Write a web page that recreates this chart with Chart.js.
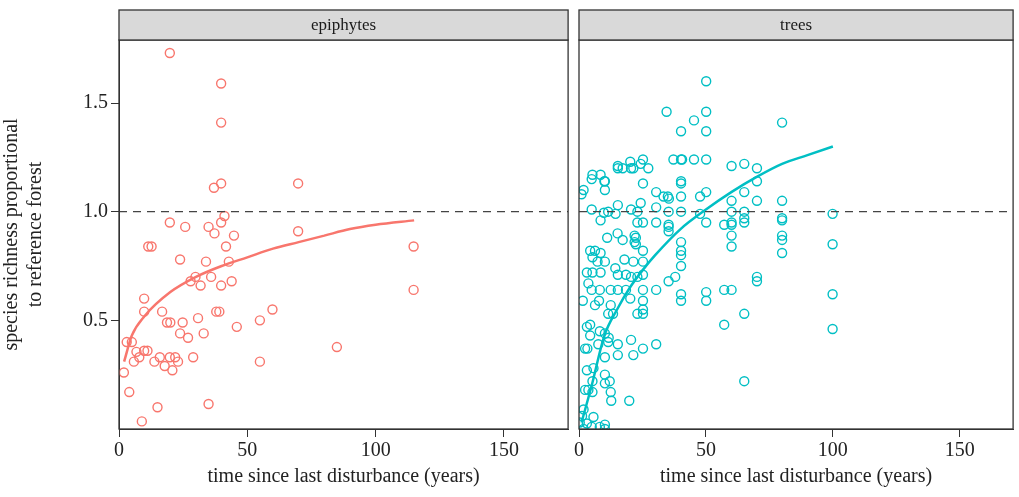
<!DOCTYPE html>
<html>
<head>
<meta charset="utf-8">
<script src="https://cdn.jsdelivr.net/npm/chart.js@4"></script>
<style>
  body { margin: 0; background: #fff; }
  #wrapL { position: absolute; left: 0; top: 0; width: 574px; height: 497px; }
  #wrapR { position: absolute; left: 572px; top: 0; width: 447px; height: 497px; }
</style>
</head>
<body>
<div id="wrapL"><canvas id="epi"></canvas></div>
<div id="wrapR"><canvas id="trees"></canvas></div>
<script>
// epiphytes: [years, proportional richness]
const epiPoints = [
  [19.8,1.73],[39.8,1.59],[39.8,1.41],[37.0,1.11],[39.8,1.13],[69.8,1.13],
  [19.8,0.95],[25.8,0.93],[34.9,0.93],[37.2,0.90],[39.8,0.95],[41.1,0.98],[44.8,0.89],[69.8,0.91],
  [11.4,0.84],[12.7,0.84],[41.7,0.84],[114.8,0.84],[23.8,0.78],[33.9,0.77],[42.8,0.77],
  [29.8,0.70],[27.9,0.68],[35.9,0.70],[31.8,0.66],[39.8,0.66],[43.9,0.68],[114.8,0.64],
  [9.8,0.60],[9.8,0.54],[16.8,0.54],[18.7,0.49],[20.0,0.49],[24.8,0.49],[30.8,0.51],
  [37.9,0.54],[39.1,0.54],[54.9,0.50],[59.8,0.55],[23.8,0.44],[26.9,0.42],[33.0,0.44],[45.9,0.47],
  [3.0,0.40],[5.0,0.40],[6.8,0.355],[9.8,0.36],[11.1,0.36],[7.9,0.33],[5.8,0.31],[13.8,0.31],
  [15.9,0.33],[19.8,0.33],[21.9,0.33],[23.0,0.31],[17.8,0.29],[20.8,0.27],[28.9,0.33],[54.9,0.31],
  [84.9,0.377],[1.9,0.26],[4.0,0.17],[15.0,0.10],[34.9,0.115],[8.9,0.035]
];
const epiFitX = [2, 5, 10, 20, 30, 40, 50, 60, 70, 80, 90, 100, 115];
const epiFitY = [0.31, 0.43, 0.52, 0.63, 0.70, 0.75, 0.79, 0.83, 0.86, 0.89, 0.92, 0.94, 0.96];

// trees: [years, proportional richness]
const treePoints = [
  [50.1,1.60],[34.5,1.46],[50.1,1.46],[45.3,1.42],[40.2,1.37],[50.1,1.37],[80.0,1.41],
  [37.2,1.24],[40.2,1.24],[40.6,1.24],[45.3,1.24],[50.1,1.24],[20.2,1.23],[25.2,1.24],
  [15.3,1.21],[15.3,1.20],[17.2,1.20],[20.5,1.20],[21.4,1.20],[24.3,1.22],[27.3,1.20],
  [5.3,1.17],[8.5,1.17],[10.2,1.14],[10.2,1.10],[1.8,1.10],[25.2,1.13],[30.4,1.09],
  [33.3,1.07],[35.0,1.07],[35.4,1.06],[40.2,1.14],[40.2,1.13],[40.2,1.07],[47.7,1.07],[50.1,1.09],
  [60.1,1.21],[65.1,1.22],[70.1,1.20],[70.1,1.14],[65.1,1.09],[60.1,1.05],[70.1,1.05],[80.0,1.05],
  [5.0,1.01],[15.3,1.03],[24.3,1.04],[30.4,1.02],[9.8,0.995],[11.5,1.0],[14.4,0.99],
  [20.5,1.01],[23.0,1.0],[35.3,1.0],[40.2,1.0],[47.7,0.99],[50.1,0.95],
  [57.2,0.94],[60.1,1.0],[60.1,0.95],[60.1,0.94],[65.1,1.0],[65.1,0.97],[65.1,0.95],
  [80.0,0.97],[80.0,0.96],[99.9,0.99],[8.5,0.96],[23.0,0.95],[25.2,0.95],[30.4,0.95],
  [35.3,0.94],[35.3,0.91],[35.3,0.93],[60.1,0.89],[60.1,0.84],[80.0,0.89],[80.0,0.87],[80.0,0.81],[99.9,0.85],
  [15.2,0.90],[17.2,0.87],[11.1,0.88],[21.9,0.89],[22.4,0.88],[21.9,0.86],[22.4,0.85],
  [40.2,0.86],[40.2,0.82],[40.2,0.80],[40.2,0.75],[25.2,0.82],
  [4.4,0.82],[6.3,0.82],[8.5,0.81],[5.3,0.79],[10.2,0.77],[7.3,0.77],[17.9,0.78],[21.4,0.77],[25.2,0.77],
  [3.1,0.72],[5.3,0.72],[8.5,0.72],[14.3,0.74],[15.3,0.71],[18.5,0.71],[20.5,0.70],[23.0,0.70],[25.2,0.71],[3.7,0.67],
  [35.3,0.68],[37.9,0.70],[70.1,0.70],[70.1,0.68],
  [5.0,0.64],[8.2,0.64],[12.5,0.64],[15.3,0.64],[18.5,0.64],[25.2,0.64],[30.4,0.64],[1.5,0.59],[6.3,0.57],[7.9,0.59],
  [20.2,0.60],[25.2,0.59],[40.2,0.62],[40.2,0.59],[50.1,0.63],[50.1,0.59],[57.2,0.64],[60.1,0.64],[99.9,0.62],
  [12.5,0.57],[11.5,0.53],[13.4,0.53],[23.0,0.53],[25.2,0.55],[25.2,0.53],[65.1,0.53],[57.2,0.48],[99.9,0.46],
  [3.1,0.47],[4.4,0.48],[4.4,0.43],[8.2,0.45],[10.2,0.44],[11.7,0.42],[11.5,0.40],[2.4,0.37],[7.6,0.39],[3.3,0.37],
  [15.3,0.39],[20.5,0.41],[25.2,0.37],[30.4,0.39],[15.3,0.34],[21.4,0.34],[10.2,0.33],
  [3.1,0.27],[5.7,0.28],[10.2,0.25],[10.2,0.21],[12.1,0.22],[5.3,0.22],[2.4,0.18],[3.7,0.18],[5.3,0.17],
  [12.5,0.17],[12.7,0.13],[19.8,0.13],[65.1,0.22],
  [1.8,0.09],[1.2,0.06],[5.7,0.055],[0.3,0.03],[3.1,0.025],[8.2,0.01],[10.2,0.02],[5.0,0.01],[10.2,0.0],[1.8,0.0],
  [1.0,1.08],[5.0,1.15],[10.0,1.14]
];
const treeFitX = [1, 5, 10, 15, 20, 25, 30, 40, 50, 60, 70, 80, 90, 100];
const treeFitY = [0.03, 0.20, 0.43, 0.55, 0.65, 0.73, 0.80, 0.92, 1.01, 1.09, 1.16, 1.22, 1.26, 1.30];

const refLevel = 1.0;
const yTicks = [0.5, 1.0, 1.5];
const xTicks = [0, 50, 100, 150];

const serif = "'Liberation Serif', 'DejaVu Serif', serif";
Chart.defaults.font.family = serif;
Chart.defaults.color = '#222';

const framePlugin = {
  id: 'frame',
  afterDraw(chart, args, opts) {
    const { ctx, chartArea: a } = chart;
    ctx.save();
    ctx.strokeStyle = '#333';
    ctx.lineWidth = 1.3;
    ctx.strokeRect(a.left, a.top, a.right - a.left, a.bottom - a.top);
    // strip header
    ctx.fillStyle = '#d9d9d9';
    ctx.fillRect(a.left, 10, a.right - a.left, a.top - 10);
    ctx.strokeRect(a.left, 10, a.right - a.left, a.top - 10);
    ctx.fillStyle = '#1a1a1a';
    ctx.font = '17px ' + serif;
    ctx.textAlign = 'center';
    ctx.textBaseline = 'middle';
    ctx.fillText(opts.label, (a.left + a.right) / 2, (a.top + 10) / 2 + 1);
    ctx.restore();
  }
};

function makeChart(id, label, points, fitX, fitY, color, xMax, showY) {
  return new Chart(document.getElementById(id), {
    type: 'scatter',
    data: {
      datasets: [
        {
          type: 'line',
          data: [{ x: 0, y: refLevel }, { x: xMax, y: refLevel }],
          borderColor: '#444', borderWidth: 1.2, borderDash: [8, 6],
          pointRadius: 0
        },
        {
          data: points.map(p => ({ x: p[0], y: p[1] })),
          borderColor: color, backgroundColor: 'transparent',
          pointRadius: 4.5, borderWidth: 1.4
        },
        {
          type: 'line',
          data: fitX.map((x, i) => ({ x: x, y: fitY[i] })),
          borderColor: color, borderWidth: 2.5, pointRadius: 0,
          cubicInterpolationMode: 'monotone'
        }
      ]
    },
    options: {
      responsive: true,
      maintainAspectRatio: false,
      animation: false,
      layout: { padding: { top: 40, left: showY ? 0 : 5, right: 0, bottom: 4 } },
      plugins: { legend: { display: false }, tooltip: { enabled: false }, frame: { label: label } },
      scales: {
        x: {
          type: 'linear', min: 0, max: xMax,
          afterBuildTicks: s => { s.ticks = xTicks.map(v => ({ value: v })); },
          grid: { drawOnChartArea: false, drawTicks: true, tickLength: 8, color: '#333' },
          border: { color: '#333' },
          ticks: { font: { size: 20 }, color: '#222', padding: 2 },
          title: { display: true, text: 'time since last disturbance (years)', font: { size: 20 }, color: '#222', padding: { top: 0 } }
        },
        y: {
          type: 'linear', min: 0, max: 1.79,
          display: showY,
          afterBuildTicks: s => { s.ticks = yTicks.map(v => ({ value: v })); },
          afterFit: s => { if (showY) s.width = 119; },
          grid: { drawOnChartArea: false, drawTicks: true, tickLength: 8, color: '#333' },
          border: { color: '#333' },
          ticks: { font: { size: 20 }, color: '#222', callback: v => v.toFixed(1) },
          title: { display: true, text: ['species richness proportional', 'to reference forest'], font: { size: 20 }, color: '#222', padding: 0 }
        }
      }
    },
    plugins: [framePlugin]
  });
}

makeChart('epi', 'epiphytes', epiPoints, epiFitX, epiFitY, '#F8766D', 175, true);
makeChart('trees', 'trees', treePoints, treeFitX, treeFitY, '#00BFC4', 171, false);
</script>
</body>
</html>
